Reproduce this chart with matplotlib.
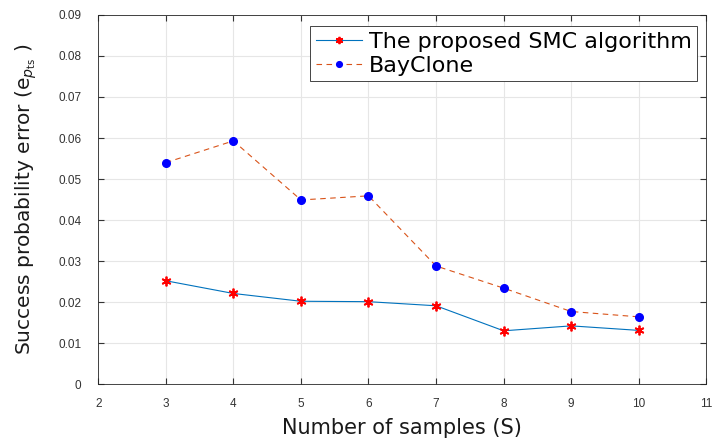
import matplotlib
matplotlib.use("Agg")
import matplotlib.pyplot as plt

plt.rcParams['font.family'] = ['DejaVu Sans']
plt.rcParams['mathtext.fontset'] = 'dejavusans'

samples = [3, 4, 5, 6, 7, 8, 9, 10]
smc = [0.0252, 0.0221, 0.0202, 0.0201, 0.0191, 0.0130, 0.0142, 0.0131]
bayclone = [0.0540, 0.0593, 0.0449, 0.0459, 0.0288, 0.0234, 0.0177, 0.0164]
xticks = [2, 3, 4, 5, 6, 7, 8, 9, 10, 11]
yticks = [0, 0.01, 0.02, 0.03, 0.04, 0.05, 0.06, 0.07, 0.08, 0.09]

fig = plt.figure(figsize=(7.12, 4.40), dpi=100)
ax = fig.add_axes([0.138, 0.127, 0.854, 0.839])

ax.plot(samples, smc, color=(0.0, 0.447, 0.741), lw=0.8,
        marker=(6, 2, 0), markersize=7, markeredgecolor='red',
        markerfacecolor='red', markeredgewidth=1.3,
        label='The proposed SMC algorithm')
ax.plot(samples, bayclone, color=(0.85, 0.325, 0.098), lw=0.8,
        linestyle=(0, (5, 4)), marker='o', markersize=5.5,
        markeredgecolor='blue', markerfacecolor='blue',
        label='BayClone')

ax.set_xlim(2, 11)
ax.set_ylim(0, 0.09)
ax.set_xticks(xticks)
ax.set_yticks(yticks)
ax.set_xticklabels([str(t) for t in xticks], family='Liberation Sans')
ax.set_yticklabels(['0'] + ['%.2f' % t for t in yticks[1:]], family='Liberation Sans')
ax.grid(True, color='#e6e6e6', lw=0.8)
ax.set_axisbelow(True)
ax.tick_params(direction='in', labelsize=8.5, colors='#333333',
               length=4, top=True, right=True, labeltop=False, labelright=False)
ax.tick_params(axis='y', pad=12)
ax.tick_params(axis='x', pad=10)
for s in ax.spines.values():
    s.set_color('#262626')
    s.set_linewidth(0.6)

ax.set_xlabel('Number of samples (S)', fontsize=15, color='#1a1a1a', labelpad=6)
ax.set_ylabel(r'Success probability error (e$_{p_{\mathregular{ts}}}$ )', fontsize=14.5,
              color='#1a1a1a', labelpad=14)

leg = ax.legend(loc='upper right', fontsize=16, fancybox=False, framealpha=1,
                edgecolor='#262626', handlelength=2.1, handletextpad=0.3,
                borderpad=0.25, labelspacing=0.18, markerscale=0.75,
                borderaxespad=0, bbox_to_anchor=(0.9855, 0.97))
leg.get_frame().set_linewidth(0.6)

fig.savefig('out.png', dpi=100)
